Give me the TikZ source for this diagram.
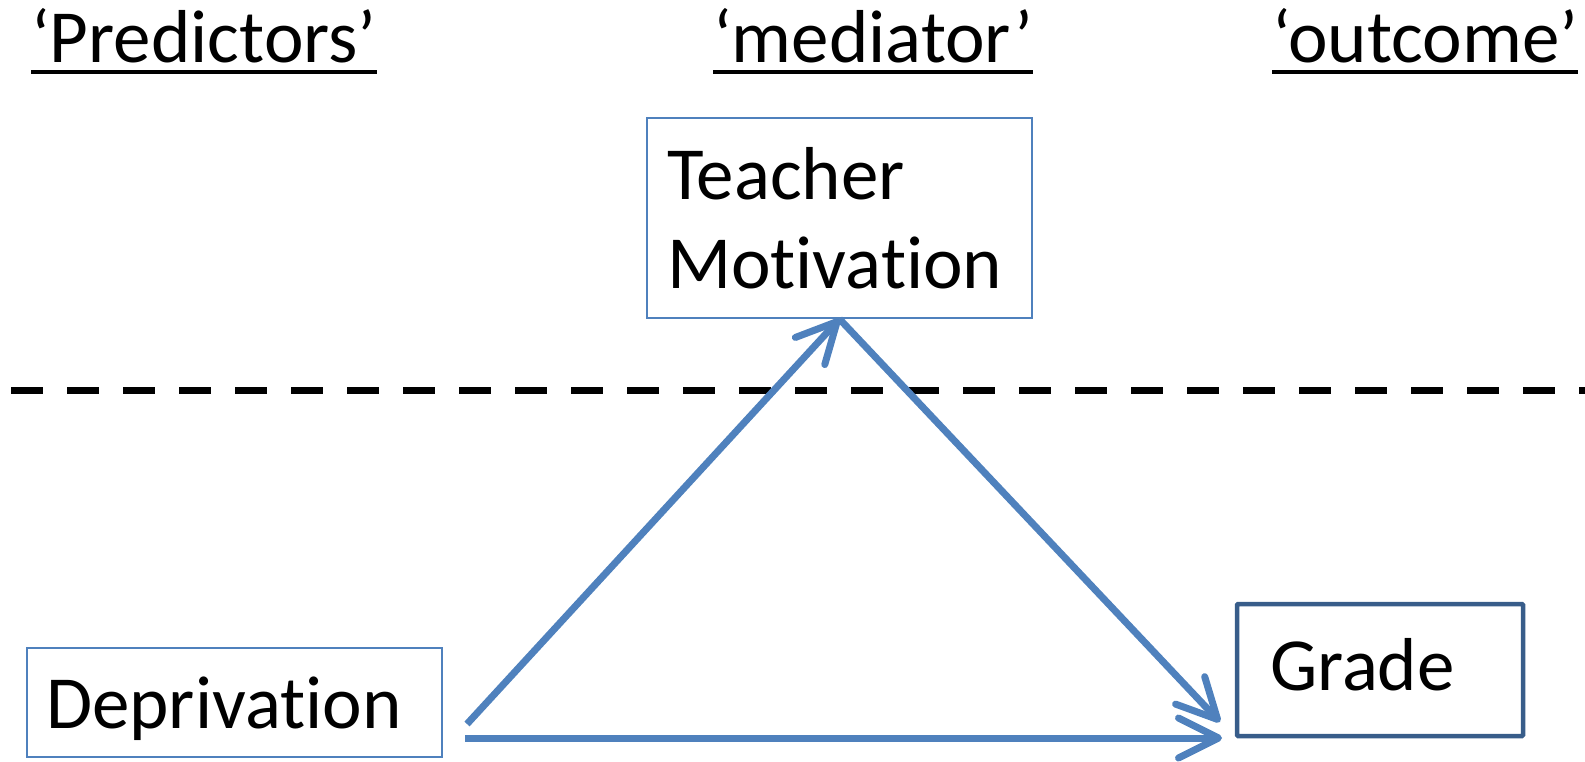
\documentclass[tikz,border=0pt]{standalone}
\usepackage{fontspec}
\setmainfont{Carlito}[Ligatures={NoCommon,NoRare}]
\usetikzlibrary{arrows.meta,calc}
\definecolor{accent}{RGB}{79,129,189}
\definecolor{accentdark}{RGB}{56,93,138}
% keep "t" and "i" as separate glyphs
\newcommand{\tisep}{t\kern0pt i}
\begin{document}
\begin{tikzpicture}[x=1pt,y=-1pt,
  every node/.style={font=\fontsize{75}{89}\selectfont, inner sep=0pt},
  header/.style={anchor=base west},
  uline/.style={line width=4.5pt},
  thinbox/.style={draw=accent, line width=2pt, align=left},
  thickbox/.style={draw=accentdark, line width=4.5pt, rounded corners=1pt, align=left},
  link/.style={draw=accent, line width=7pt, -{Straight Barb[length=40pt,width=40pt,round]}},
  divider/.style={line width=7pt, dash pattern=on 32pt off 24pt}]
\useasboundingbox (0,0) rectangle (1585,761);

% column headings
\node[header] (hp) at (31,62) {‘Predictors’};
\node[header] (hm) at (713,62) {‘mediator’};
\node[header] (ho) at (1272,62) {‘outcome’};
\foreach \h in {hp,hm,ho}
  \draw[uline] ($(\h.base west)+(0,10)$) -- ($(\h.base east)+(0,10)$);

% level divider
\coordinate (dl) at (11,390);
\coordinate (dr) at (1585,390);
\draw[divider] (dl) -- (dr);

% variables
\node[thinbox, text width=345pt, inner xsep=20pt, minimum height=200pt] (tm) at (839.5,218) {Teacher\\Mo\tisep vation};
\node[thinbox, text width=377pt, inner xsep=19pt, minimum height=109pt, text height=60pt, text depth=9pt] (dep) at (234.5,702.5) {Depriva\tisep on};
\node[thickbox, text width=220pt, inner xsep=33pt, minimum height=132pt, text height=50pt, text depth=10pt] (gr) at (1380,670) {Grade};

% paths
\coordinate (s1) at (467,724);
\coordinate (s2) at (465,738);
\coordinate (g1) at (1220,722);
\coordinate (g2) at (1222,738);
\draw[link] (s1) -- (tm.south);
\draw[link] (tm.south) -- (g1);
\draw[link] (s2) -- (g2);
\end{tikzpicture}
\end{document}
